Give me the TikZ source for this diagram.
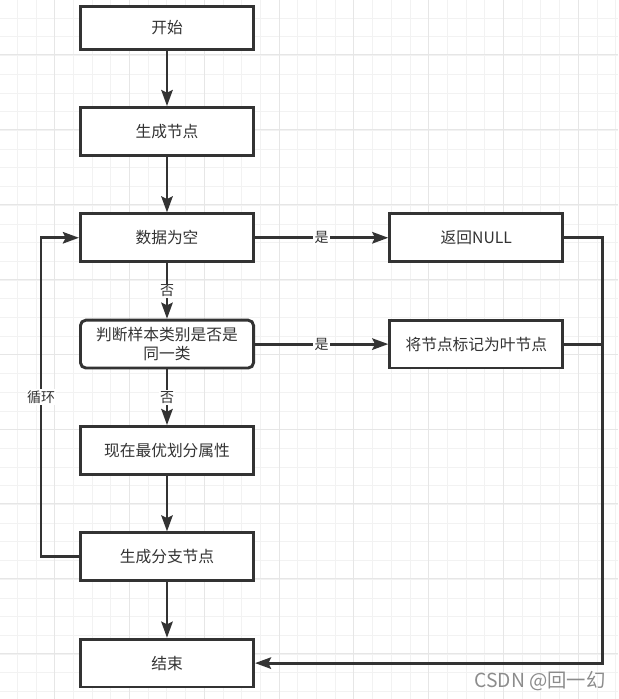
\documentclass[tikz,border=0pt]{standalone}
\usepackage{fontspec}
\setmainfont{Noto Sans CJK SC}
\usepackage{tikz}
\usetikzlibrary{arrows.meta,positioning}
\definecolor{line}{HTML}{333333}
\definecolor{gridminor}{HTML}{F2F2F2}
\definecolor{gridmajor}{HTML}{E6E6E6}

\begin{document}
\begin{tikzpicture}[x=0.75pt,y=-0.75pt,
      >={Stealth[length=12pt,width=8.5pt,inset=2pt]},
      node distance=41.7pt and 100pt,
      flow/.style={draw=line,line width=2.2pt},
      box/.style={draw=line,line width=2.2pt,fill=white,minimum width=129.8pt,
        minimum height=35.85pt,font=\fontsize{11.8pt}{14.5pt}\selectfont,
        text=line,align=center,inner sep=2pt},
      lbl/.style={fill=white,text=line,inner sep=1pt,
        font=\fontsize{10.5pt}{12pt}\selectfont}]
    \useasboundingbox (0,0) rectangle (618,699);
    % background grid
    \fill[white] (0,0) rectangle (618,699);
    \foreach \i in {0,...,32}
      \draw[gridminor,line width=0.75pt] (17.3+\i*18.7,0) -- (17.3+\i*18.7,699);
    \foreach \i in {0,...,36}
      \draw[gridminor,line width=0.75pt] (0,18.3+\i*18.7) -- (618,18.3+\i*18.7);
    \foreach \i in {0,...,7}
      \draw[gridmajor,line width=0.75pt] (54.7+\i*74.8,0) -- (54.7+\i*74.8,699);
    \foreach \i in {0,...,8}
      \draw[gridmajor,line width=0.75pt] (0,55+\i*74.8) -- (618,55+\i*74.8);

    % main column
    \node[box,minimum height=32.3pt] (start) at (167,28) {开始};
    \node[box] (gen) [below = 41.3pt of start] {生成节点};
    \node[box] (empty) [below = of gen] {数据为空};
    \node[box,rounded corners=4pt] (same) [below = of empty]
          {判断样本类别是否是\\同一类};
    \node[box] (best) [below = of same] {现在最优划分属性};
    \node[box] (branch) [below = of best] {生成分支节点};
    \node[box] (end) [below = of branch] {结束};
    % right column
    \node[box] (null) [right = of empty] {返回NULL};
    \node[box] (leaf) [right = of same] {将节点标记为叶节点};

    \draw[flow,->] (start) -- (gen);
    \draw[flow,->] (gen) -- (empty);
    \draw[flow,->] (empty) -- node[lbl] {否} (same);
    \draw[flow,->] (same) -- node[lbl] {否} (best);
    \draw[flow,->] (best) -- (branch);
    \draw[flow,->] (branch) -- (end);
    \draw[flow,->] (empty) -- node[lbl] {是} (null);
    \draw[flow,->] (same) -- node[lbl] {是} (leaf);
    % loop back
    \draw[flow,->] (branch.west) -- ++(-38,0) |- node[lbl,pos=0.25] {循环}
          (empty.west);
    % right return line
    \draw[flow,->] (null.east) -- ++(38,0) coordinate (rt) |- (end.east);
    \draw[flow] (leaf.east) -- (leaf.east -| rt);

    \node[text=black!45,font=\fontsize{14.5pt}{16pt}\selectfont]
          (mark) at (540,681) {CSDN @回一幻};
\end{tikzpicture}
\end{document}
